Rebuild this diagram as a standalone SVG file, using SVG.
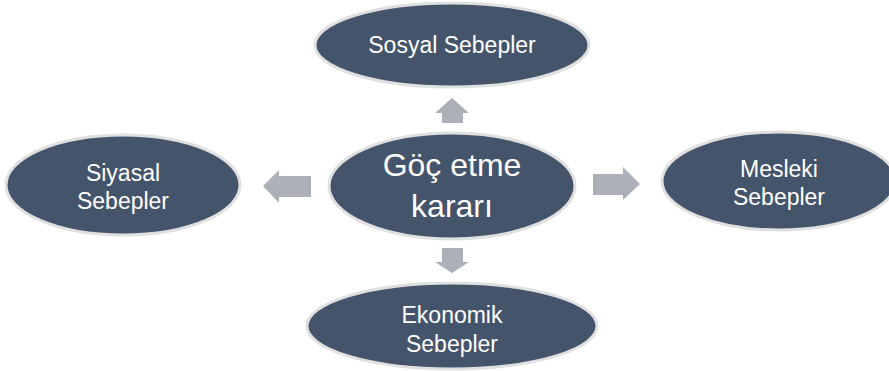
<svg xmlns="http://www.w3.org/2000/svg" width="889" height="371" viewBox="0 0 889 371">
<style>
.node{fill:#44546A;stroke:#E0E0E0;stroke-width:3}
.lbl{fill:#FFFFFF;font-family:"Liberation Sans",Arial,sans-serif;font-size:23px;text-anchor:middle}
.big{font-size:32px}
.arr{fill:#ADB0B8}
</style>
<rect width="889" height="371" fill="#FFFFFF"/>
<g id="connectors">
<polygon class="arr" points="452,98 469,113 463,113 463,123 442,123 442,113 435,113"/>
<polygon class="arr" points="442,248 463,248 463,262 469,262 452,273 435,262 442,262"/>
<polygon class="arr" points="263,186 279,170 279,176 311,176 311,197 279,197 279,203"/>
<polygon class="arr" points="593,174 623,174 623,167 640,184 623,200 623,195 593,195"/>
</g>
<g id="sosyal">
<ellipse class="node" cx="452" cy="45" rx="137" ry="42"/>
<text class="lbl" x="452" y="53">Sosyal Sebepler</text>
</g>
<g id="center">
<ellipse class="node" cx="452" cy="186" rx="123" ry="53"/>
<text class="lbl big" x="452" y="176">Göç etme</text>
<text class="lbl big" x="452" y="217">kararı</text>
</g>
<g id="siyasal">
<ellipse class="node" cx="123" cy="185" rx="117" ry="50"/>
<text class="lbl" x="123" y="181">Siyasal</text>
<text class="lbl" x="123" y="209">Sebepler</text>
</g>
<g id="mesleki">
<ellipse class="node" cx="779" cy="181" rx="117" ry="49"/>
<text class="lbl" x="779" y="177">Mesleki</text>
<text class="lbl" x="779" y="205">Sebepler</text>
</g>
<g id="ekonomik">
<ellipse class="node" cx="452" cy="326" rx="145" ry="43"/>
<text class="lbl" x="452" y="323">Ekonomik</text>
<text class="lbl" x="452" y="352">Sebepler</text>
</g>
</svg>
